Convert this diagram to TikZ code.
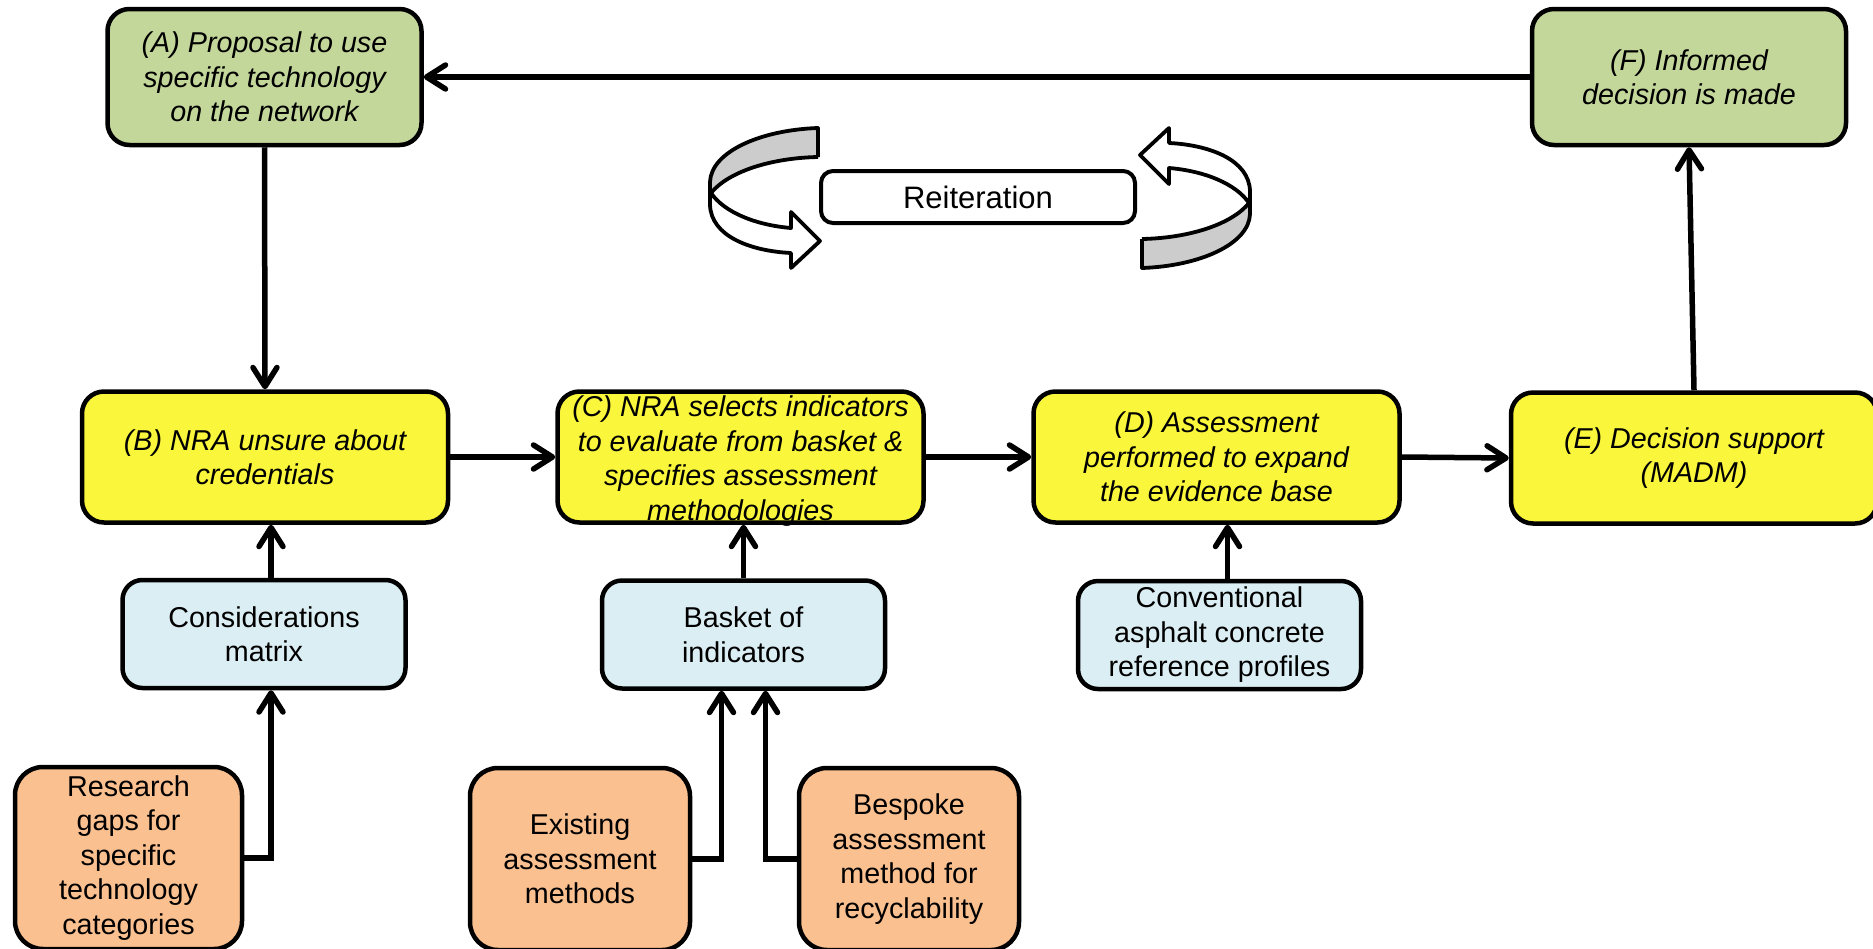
\documentclass[tikz,border=0pt]{standalone}
\usepackage{fontspec}
\setmainfont{Liberation Sans}
\usetikzlibrary{arrows.meta,calc}
\definecolor{cgreen}{RGB}{196,215,155}
\definecolor{cyellow}{RGB}{250,246,60}
\definecolor{cblue}{RGB}{219,238,243}
\definecolor{corange}{RGB}{250,192,144}
\definecolor{cgray}{RGB}{204,204,204}
\newcommand\reiterarrowshape{%
  \fill[cgray] (818,128) .. controls (760,130) and (711,152) .. (710,182) -- (711,193)
     .. controls (728,172) and (770,158) .. (818,157) -- cycle;
  \fill[white] (711,193) -- (710,205) .. controls (711,236) and (750,251) .. (791,253)
     -- (791,268) -- (820,241) -- (791,212) -- (791,228)
     .. controls (755,225) and (724,212) .. (711,193) -- cycle;
  \draw[bandline] (818,157) -- (818,128) .. controls (760,130) and (711,152) .. (710,182)
     -- (710,205) .. controls (711,236) and (750,251) .. (791,253)
     -- (791,268) -- (820,241) -- (791,212) -- (791,228)
     .. controls (755,225) and (724,212) .. (711,193)
     .. controls (728,172) and (770,158) .. (818,157);
}
\begin{document}
\begin{tikzpicture}[x=1pt,y=-1pt,
  basebox/.style={draw=black, line width=4.5pt, rounded corners=22pt, align=center,
    inner sep=0pt, font=\fontsize{28.7pt}{34.5pt}\selectfont},
  stagebox/.style={basebox, fill=cyellow, minimum width=366pt, minimum height=131pt,
    font=\fontsize{28.7pt}{34.5pt}\selectfont\itshape},
  endbox/.style={basebox, fill=cgreen, minimum width=314pt, minimum height=136pt,
    font=\fontsize{28.7pt}{34.5pt}\selectfont\itshape},
  toolbox/.style={basebox, fill=cblue, rounded corners=20pt, minimum width=283pt, minimum height=108pt},
  srcbox/.style={basebox, fill=corange, rounded corners=28pt, minimum width=220pt, minimum height=182pt},
  itxt/.style={align=center, inner sep=0pt, font=\fontsize{28.7pt}{34.5pt}\selectfont\itshape},
  reibox/.style={draw=black, line width=4pt, rounded corners=12pt, fill=white,
    minimum width=314pt, minimum height=52pt, inner sep=0pt,
    font=\fontsize{31pt}{36pt}\selectfont},
  bandline/.style={line width=3.8pt, line join=round},
  arr/.style={line width=5.5pt, -{Straight Barb[length=19pt,width=24pt,round]}},
  elbow/.style={arr, rounded corners=0pt}
]
\useasboundingbox (0,0) rectangle (1873,948);

% top row
\node[endbox] (A) at (264.5,77) {(A) Proposal to use\\specific technology\\on the network};
\node[endbox] (F) at (1689,77) {(F) Informed\\decision is made};

% reiteration
\reiterarrowshape
\begin{scope}[rotate around={180:(980,198)}]
  \reiterarrowshape
\end{scope}
\node[reibox] (R) at (978,197) {Reiteration};

% stage row
\node[stagebox] (B) at (265,457) {(B) NRA unsure about\\credentials};
\node[stagebox] (C) at (740.5,457) {};
\node[itxt] (Ct) at (740.5,461) {(C) NRA selects indicators\\to evaluate from basket \&\\specifies assessment\\methodologies};
\node[stagebox] (D) at (1216.5,457) {(D) Assessment\\performed to expand\\the evidence base};
\node[stagebox] (E) at (1694,458) {(E) Decision support\\(MADM)};

% tool row
\node[toolbox] (cons) at (264,634) {Considerations\\matrix};
\node[toolbox] (basket) at (743.5,634.5) {Basket of\\indicators};
\node[toolbox] (conv) at (1219.5,635) {Conventional\\asphalt concrete\\reference profiles};

% source row
\node[srcbox, minimum width=227pt] (research) at (128.5,858) {Research\\gaps for\\specific\\technology\\categories};
\node[srcbox] (existing) at (580,859) {Existing\\assessment\\methods};
\node[srcbox] (bespoke) at (909,859) {Bespoke\\assessment\\method for\\recyclability};

% connectors
\draw[arr] (F.west) -- (A.east);
\draw[arr] (A.south) -- (B.north);
\draw[arr] (B.east) -- (C.west);
\draw[arr] (C.east) -- (D.west);
\draw[arr] (D.east) -- (E.west);
\draw[arr] (E.north) -- (F.south);
\draw[arr] ([xshift=7pt]cons.north) -- ([xshift=7pt]cons.north |- B.south);
\draw[arr] (basket.north) -- (basket.north |- C.south);
\draw[arr] ([xshift=8pt]conv.north) -- ([xshift=8pt]conv.north |- D.south);
\draw[elbow] (research.east) -| ([xshift=7pt]cons.south);
\draw[elbow] (existing.east) -| ([xshift=-22pt]basket.south);
\draw[elbow] (bespoke.west) -| ([xshift=22pt]basket.south);
\end{tikzpicture}
\end{document}
